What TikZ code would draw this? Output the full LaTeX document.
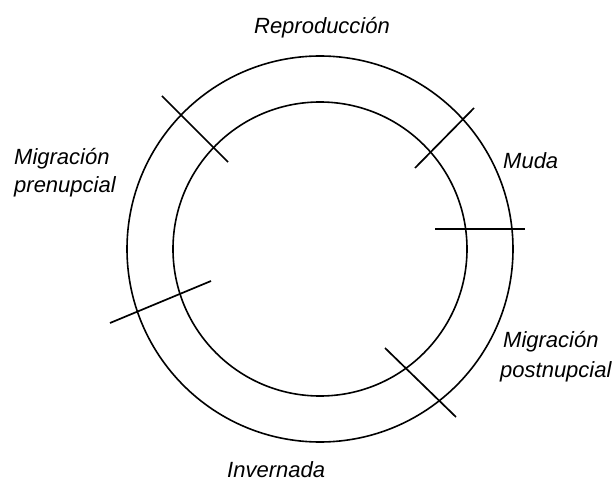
\documentclass[tikz,border=0pt]{standalone}
\usepackage{fontspec}
\setmainfont{Liberation Sans}
\begin{document}
\begin{tikzpicture}[x=1pt,y=-1pt,
  ring/.style={line width=1.6pt,draw=black},
  tick/.style={line width=1.7pt,draw=black},
  lbl/.style={inner sep=0pt,font=\fontsize{22}{26}\selectfont\itshape}]
\useasboundingbox (0,0) rectangle (614,484);
\coordinate (c) at (320,249);
\draw[ring] (c) circle[radius=193];
\draw[ring] (c) circle[radius=147];
% ticks
\coordinate (t1a) at (162,96);  \coordinate (t1b) at (228,162);
\coordinate (t2a) at (474,108); \coordinate (t2b) at (415,168);
\coordinate (t3a) at (435,229); \coordinate (t3b) at (525,229);
\coordinate (t4a) at (385,348); \coordinate (t4b) at (456,417);
\coordinate (t5a) at (110,323); \coordinate (t5b) at (211,281);
\draw[tick] (t1a) -- (t1b);
\draw[tick] (t2a) -- (t2b);
\draw[tick] (t3a) -- (t3b);
\draw[tick] (t4a) -- (t4b);
\draw[tick] (t5a) -- (t5b);
% labels
\node[lbl,anchor=base] (rep) at (322,34) {Reproducción};
\node[lbl,anchor=base west] (pre1) at (14,165) {Migración};
\node[lbl,anchor=base west] (pre2) at (14,193) {prenupcial};
\node[lbl,anchor=base west] (muda) at (503,169) {Muda};
\node[lbl,anchor=base west] (post1) at (503,348) {Migración};
\node[lbl,anchor=base west] (post2) at (500,377) {postnupcial};
\node[lbl,anchor=base west] (inv) at (227,477) {Invernada};
\end{tikzpicture}
\end{document}
